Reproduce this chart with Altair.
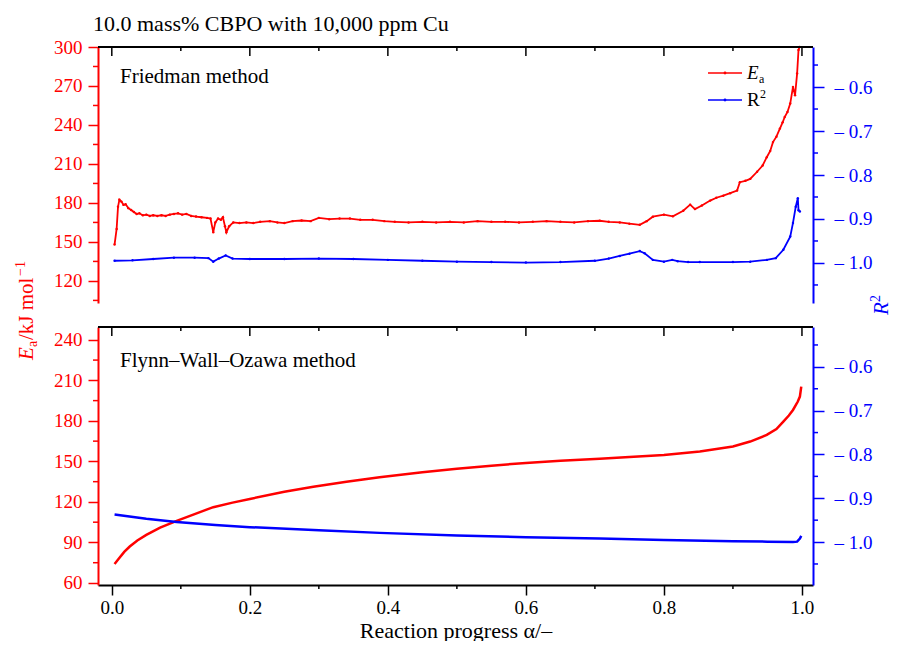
import altair as alt
import pandas as pd

SERIF = "Liberation Serif"
RED = "#ff0000"
BLUE = "#0000ff"

TITLE = "10.0 mass% CBPO with 10,000 ppm Cu"
TOP_LABEL = "Friedman method"
BOT_LABEL = "Flynn–Wall–Ozawa method"
X_TITLE = "Reaction progress α/–"

# ---- Friedman method: activation energy (kJ/mol) ----
fr_alpha = [0.004, 0.007, 0.009, 0.011, 0.014, 0.017, 0.020, 0.024, 0.028, 0.032,
            0.036, 0.040, 0.045, 0.050, 0.055, 0.060, 0.066, 0.072, 0.078, 0.084,
            0.090, 0.096, 0.102, 0.108, 0.115, 0.122, 0.130, 0.138, 0.143, 0.147,
            0.150, 0.154, 0.158, 0.161, 0.164, 0.166, 0.170, 0.176, 0.185, 0.195,
            0.205, 0.215, 0.229, 0.240, 0.250, 0.262, 0.275, 0.288, 0.300, 0.315,
            0.330, 0.345, 0.360, 0.378, 0.395, 0.410, 0.430, 0.450, 0.470, 0.490,
            0.510, 0.530, 0.550, 0.570, 0.590, 0.610, 0.630, 0.650, 0.670, 0.690,
            0.707, 0.720, 0.736, 0.750, 0.765, 0.775, 0.784, 0.800, 0.813, 0.828,
            0.838, 0.845, 0.855, 0.867, 0.876, 0.886, 0.896, 0.906, 0.910, 0.918,
            0.925, 0.935, 0.943, 0.949, 0.954, 0.958, 0.963, 0.968, 0.972, 0.975,
            0.979, 0.983, 0.987, 0.990, 0.993, 0.995, 0.9965]
fr_ea = [148.0, 160.0, 177.0, 182.5, 181.0, 178.5, 179.0, 176.0, 174.5, 173.0,
         171.5, 172.0, 170.5, 171.0, 170.0, 170.5, 170.0, 170.5, 170.0, 171.0,
         171.5, 172.0, 171.0, 171.5, 170.0, 169.5, 169.0, 168.5, 168.0, 157.5,
         165.0, 168.0, 167.0, 169.0, 162.0, 157.5, 162.0, 165.0, 164.5, 165.0,
         164.5, 165.5, 166.0, 165.0, 164.5, 166.0, 166.5, 166.0, 168.5, 167.5,
         168.0, 168.0, 167.0, 167.0, 166.0, 165.5, 165.0, 165.5, 165.0, 165.5,
         165.0, 166.0, 165.5, 165.5, 165.0, 165.5, 166.0, 165.5, 165.0, 166.0,
         166.3, 165.5, 165.0, 164.0, 163.2, 166.0, 169.4, 171.0, 169.7, 174.0,
         178.7, 175.3, 178.0, 181.8, 184.0, 185.6, 187.5, 189.5, 196.0, 197.0,
         198.5, 204.0, 208.8, 215.2, 220.0, 226.8, 231.0, 237.2, 242.0, 246.1,
         250.0, 256.5, 269.3, 262.9, 279.7, 297.7, 300.0]

# ---- Friedman method: R^2 ----
fr_r2_alpha = [0.004, 0.030, 0.060, 0.090, 0.120, 0.140, 0.147, 0.155, 0.165, 0.175,
               0.200, 0.250, 0.300, 0.350, 0.400, 0.450, 0.500, 0.550, 0.600, 0.650,
               0.700, 0.720, 0.736, 0.750, 0.765, 0.772, 0.784, 0.800, 0.812, 0.820,
               0.835, 0.852, 0.900, 0.925, 0.949, 0.962, 0.973, 0.983, 0.987, 0.991,
               0.994, 0.995, 0.997]
fr_r2 = [-0.995, -0.994, -0.991, -0.988, -0.988, -0.989, -0.997, -0.990, -0.983, -0.990,
         -0.991, -0.991, -0.990, -0.991, -0.993, -0.995, -0.997, -0.998, -0.999, -0.998,
         -0.995, -0.990, -0.984, -0.979, -0.973, -0.978, -0.993, -0.997, -0.993, -0.996,
         -0.998, -0.998, -0.998, -0.997, -0.993, -0.989, -0.970, -0.940, -0.909, -0.872,
         -0.853, -0.880, -0.883]

# ---- Flynn-Wall-Ozawa: activation energy ----
fwo_alpha = [0.004, 0.010, 0.018, 0.026, 0.037, 0.050, 0.070, 0.094, 0.120, 0.147,
             0.175, 0.200, 0.250, 0.292, 0.340, 0.388, 0.450, 0.500, 0.550, 0.600,
             0.650, 0.707, 0.750, 0.800, 0.852, 0.900, 0.925, 0.949, 0.963, 0.973,
             0.981, 0.987, 0.994, 0.997, 0.999]
fwo_ea = [74.1, 78.0, 83.0, 87.0, 91.5, 95.6, 101.0, 106.0, 111.0, 116.1,
          119.5, 122.2, 127.5, 131.3, 135.0, 138.3, 142.0, 144.5, 146.8, 148.9,
          150.5, 151.9, 153.2, 154.8, 157.3, 161.0, 164.7, 169.6, 174.0, 179.5,
          184.0, 188.1, 194.3, 198.0, 205.4]

# ---- Flynn-Wall-Ozawa: R^2 ----
fwo_r2_alpha = [0.004, 0.050, 0.094, 0.150, 0.200, 0.300, 0.388, 0.500, 0.600, 0.707,
                0.800, 0.900, 0.950, 0.987, 0.993, 0.997, 0.999]
fwo_r2 = [-0.937, -0.947, -0.954, -0.961, -0.966, -0.973, -0.979, -0.985, -0.989, -0.992,
          -0.995, -0.998, -0.999, -1.000, -0.999, -0.992, -0.986]

# ---- ticks ----
x_major = [0.0, 0.2, 0.4, 0.6, 0.8, 1.0]
x_minor = [0.1, 0.3, 0.5, 0.7, 0.9]
top_ea_major = [120, 150, 180, 210, 240, 270, 300]
top_ea_minor = [105, 135, 165, 195, 225, 255, 285]
bot_ea_major = [60, 90, 120, 150, 180, 210, 240]
bot_ea_minor = [75, 105, 135, 165, 195, 225]
r2_major = [-0.6, -0.7, -0.8, -0.9, -1.0]
r2_minor = [-0.55, -0.65, -0.75, -0.85, -0.95, -1.05]

# ---- layout (pixels) ----
W = 715          # plot width
H1 = 256         # upper panel height
GAP = 24         # gap between panels
Y2 = H1 + GAP    # top of lower panel
H = Y2 + 258     # total plot height (lower panel bottom)
X_DOMAIN = [-0.02, 1.016]

one = pd.DataFrame({"k": [0]})

xs = alt.Scale(domain=X_DOMAIN, nice=False, zero=False)
x_axis = alt.Axis(
    values=x_major, format=".1f", title=X_TITLE, grid=False, orient="bottom",
    domainColor="black", domainWidth=2, tickColor="black",
    tickWidth=1.5, tickSize=10, labelFont=SERIF,
    labelFontSize=19, labelColor="black", labelPadding=3,
    titleFont=SERIF, titleFontSize=22, titleFontWeight="normal",
    titleColor="black", titlePadding=3)


def xenc():
    return alt.X("alpha:Q", scale=xs, axis=x_axis)


def txt(s, x, y, size, color="black", italic=False, angle=None, align="left"):
    kw = dict(text=s, font=SERIF, fontSize=size, color=color, align=align,
              baseline="alphabetic")
    if italic:
        kw["fontStyle"] = "italic"
    if angle is not None:
        kw["angle"] = angle
    return alt.Chart(one).mark_text(**kw).encode(x=alt.value(x), y=alt.value(y))


def panel(ea_a, ea_v, r2_a, r2_v, ea_dom, r2_dom, y_top, y_bot, ea_major, ea_minor,
          width, with_points):
    def ea_scale():
        return alt.Scale(domain=ea_dom, range=[y_bot, y_top], nice=False, zero=False)

    def r2_scale():
        return alt.Scale(domain=r2_dom, range=[y_bot, y_top], nice=False, zero=False)

    ea_axis = alt.Axis(values=ea_major, orient="left", title="", grid=False,
                       domainColor=RED, domainWidth=2, tickColor=RED, tickWidth=1.5,
                       tickSize=10, labelColor=RED, labelFont=SERIF, labelFontSize=19,
                       labelPadding=6, format="d")
    r2_axis = alt.Axis(values=r2_major, orient="right", title="", grid=False,
                       domainColor=BLUE, domainWidth=2, tickColor=BLUE, tickWidth=1.5,
                       tickSize=11, labelColor=BLUE, labelFont=SERIF, labelFontSize=19,
                       labelPadding=10,
                       labelExpr="'\u2013 ' + format(abs(datum.value), '.1f')")

    ea_df = pd.DataFrame({"alpha": ea_a, "ea": ea_v})
    r2_df = pd.DataFrame({"alpha": r2_a, "r2": r2_v})

    if with_points:
        ea_mark = alt.Chart(ea_df).mark_line(
            color=RED, strokeWidth=width,
            point=alt.OverlayMarkDef(color=RED, size=6, filled=True))
        r2_mark = alt.Chart(r2_df).mark_line(
            color=BLUE, strokeWidth=width,
            point=alt.OverlayMarkDef(color=BLUE, size=6, filled=True))
    else:
        ea_mark = alt.Chart(ea_df).mark_line(color=RED, strokeWidth=width)
        r2_mark = alt.Chart(r2_df).mark_line(color=BLUE, strokeWidth=width)

    ea_line = ea_mark.encode(
        x=xenc(), y=alt.Y("ea:Q", scale=ea_scale(), axis=ea_axis))
    ea_min = alt.Chart(pd.DataFrame({"v": ea_minor})).mark_rule(
        color=RED, strokeWidth=1.5).encode(
        y=alt.Y("v:Q", scale=ea_scale(), axis=None),
        x=alt.value(-5), x2=alt.value(0.01))
    r2_line = r2_mark.encode(
        x=xenc(), y=alt.Y("r2:Q", scale=r2_scale(), axis=r2_axis))
    r2_min = alt.Chart(pd.DataFrame({"v": r2_minor})).mark_rule(
        color=BLUE, strokeWidth=1.5).encode(
        y=alt.Y("v:Q", scale=r2_scale(), axis=None),
        x=alt.value(W), x2=alt.value(W + 5))

    # black top frame of the panel drawn as a line along the top of the Ea scale
    top_v = ea_dom[1]
    per_px = (ea_dom[1] - ea_dom[0]) / (y_bot - y_top)
    frame_df = pd.DataFrame({"alpha": X_DOMAIN, "v": [top_v, top_v]})
    frame = alt.Chart(frame_df).mark_line(color="black", strokeWidth=2).encode(
        x=xenc(), y=alt.Y("v:Q", scale=ea_scale(), axis=None))

    # inward ticks hanging from the frame: one short 2-point line per tick
    t_alpha, t_v, t_id = [], [], []
    for i, a in enumerate(x_major):
        t_alpha += [a, a]
        t_v += [top_v, top_v - 9 * per_px]
        t_id += [f"M{i}", f"M{i}"]
    for i, a in enumerate(x_minor):
        t_alpha += [a, a]
        t_v += [top_v, top_v - 4 * per_px]
        t_id += [f"m{i}", f"m{i}"]
    ticks_df = pd.DataFrame({"alpha": t_alpha, "v": t_v, "id": t_id})
    ticks = alt.Chart(ticks_df).mark_line(color="black", strokeWidth=1.5).encode(
        x=xenc(), y=alt.Y("v:Q", scale=ea_scale(), axis=None), detail="id:N")
    return [ea_line, r2_line, ea_min, r2_min, frame, ticks]


layers = []
layers += panel(fr_alpha, fr_ea, fr_r2_alpha, fr_r2, [103, 300], [-1.091, -0.509],
                0, H1, top_ea_major, top_ea_minor, 1.8, True)
layers += panel(fwo_alpha, fwo_ea, fwo_r2_alpha, fwo_r2, [58.5, 249.5],
                [-1.098, -0.509], Y2, H, bot_ea_major, bot_ea_minor, 2.5, False)

# minor ticks under the bottom axis
layers.append(alt.Chart(pd.DataFrame({"alpha": x_minor})).mark_rule(
    color="black", strokeWidth=1.5).encode(
    x=xenc(), y=alt.value(H), y2=alt.value(H + 4)))

layers += [
    # invisible anchor fixing the chart's top-left corner
    alt.Chart(one).mark_point(opacity=0, size=1).encode(
        x=alt.value(-89.5), y=alt.value(-38.5)),
    txt(TITLE, -5, -16, 22),
    txt(TOP_LABEL, 22, 36, 21),
    txt(BOT_LABEL, 22, Y2 + 40, 21),
    # legend
    alt.Chart(one).mark_rule(color=RED, strokeWidth=1.5).encode(
        x=alt.value(610), x2=alt.value(644), y=alt.value(26)),
    alt.Chart(one).mark_point(color=RED, filled=True, size=8, opacity=1).encode(
        x=alt.value(627), y=alt.value(26)),
    txt("E", 649, 32, 19, italic=True),
    txt("a", 661, 36, 12),
    alt.Chart(one).mark_rule(color=BLUE, strokeWidth=1.5).encode(
        x=alt.value(610), x2=alt.value(644), y=alt.value(53)),
    alt.Chart(one).mark_point(color=BLUE, filled=True, size=8, opacity=1).encode(
        x=alt.value(627), y=alt.value(53)),
    txt("R", 649, 59, 19),
    txt("2", 662, 51, 12),
    # left axis title (rotated)
    txt("E", -65, 313, 21, color=RED, italic=True, angle=270),
    txt("a", -61, 300, 14, color=RED, angle=270),
    txt(" /kJ mol", -65, 293, 21, color=RED, angle=270),
    txt("\u22121", -73, 229, 14, color=RED, angle=270),
    # right axis title (rotated)
    txt("R", 790, 268, 21, color=BLUE, italic=True, angle=270),
    txt("2", 782, 255, 14, color=BLUE, angle=270),
]

chart = alt.layer(*layers).resolve_scale(y="independent").properties(
    width=W, height=H, padding=0, background="white"
).configure_view(strokeOpacity=0)

chart.save("out.html", embed_options={"renderer": "svg", "actions": False})
